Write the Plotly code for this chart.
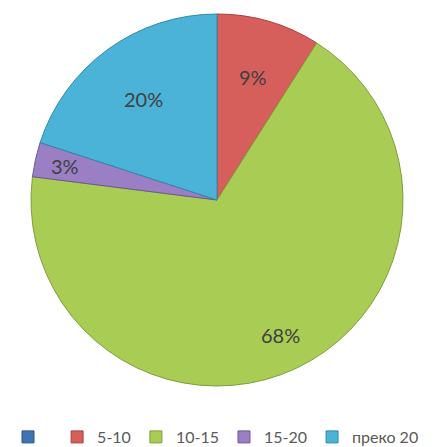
import math
import plotly.graph_objects as go

labels = [" ", "5-10", "10-15", "15-20", "преко 20"]
values = [0, 9, 68, 3, 20]
colors = ["#3F73B4", "#D65F5B", "#A9CC55", "#9A7FC5", "#4BB3D8"]
edge = ["#2C5590", "#A8403D", "#7F9E3A", "#6F5896", "#2E8AAE"]
# radial placement of each percent label as a fraction of the radius
label_r = [0.0, 0.69, 0.80, 0.84, 0.67]

W, H = 425, 439          # page body has an 8px margin
cx, cy, R = 209, 192, 186  # pie centre / radius in figure pixels

fig = go.Figure(go.Pie(
    labels=labels,
    values=values,
    sort=False,
    direction="clockwise",
    rotation=0,
    marker=dict(colors=colors, line=dict(color=edge, width=1)),
    textinfo="none",
    domain=dict(x=[(cx - R) / W, (cx + R) / W], y=[(H - cy - R) / H, (H - cy + R) / H]),
    hoverinfo="label+percent",
))

total = sum(values)
cum = 0
for lab, v, fr in zip(labels, values, label_r):
    if v > 0:
        mid = (cum + v / 2) / total * 2 * math.pi
        px = cx + fr * R * math.sin(mid)
        py = cy - fr * R * math.cos(mid)
        fig.add_annotation(x=px / W, y=1 - py / H, xref="paper", yref="paper",
                           xanchor="center", yanchor="middle",
                           text=f"{round(100 * v / total)}%", showarrow=False,
                           font=dict(size=20, color="#404040", family="Lato"))
    cum += v

fig.update_layout(
    width=W, height=H,
    margin=dict(l=0, r=0, t=0, b=0, autoexpand=False),
    paper_bgcolor="white",
    showlegend=True,
    legend=dict(orientation="h", x=0, xanchor="left", y=10 / H, yanchor="middle",
                font=dict(size=16, color="#595959", family="Lato"),
                itemwidth=30, tracegroupgap=0),
)

fig.write_html("out.html")
